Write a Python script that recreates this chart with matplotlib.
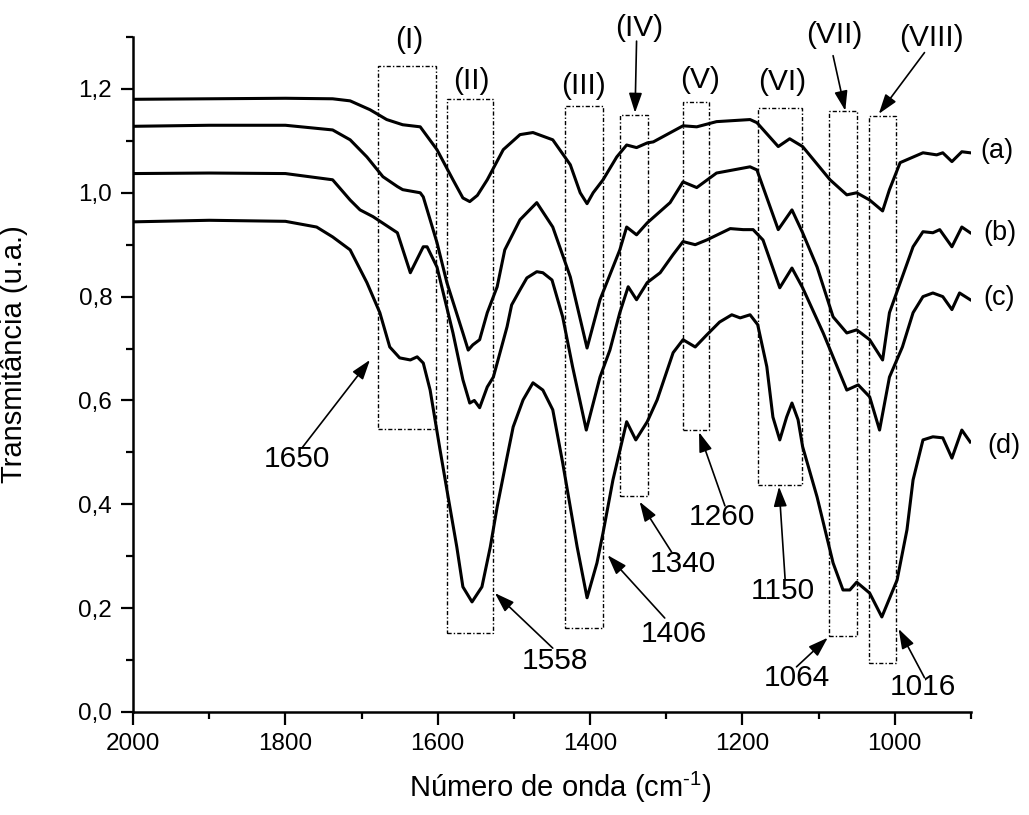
import matplotlib
matplotlib.use('Agg')
import matplotlib.pyplot as plt
from matplotlib.patches import Rectangle
from matplotlib.ticker import MultipleLocator, FuncFormatter

plt.rcParams['font.family'] = ['Liberation Sans', 'DejaVu Sans']
plt.rcParams['mathtext.fontset'] = 'custom'
plt.rcParams['mathtext.rm'] = 'Liberation Sans'
plt.rcParams['mathtext.it'] = 'Liberation Sans:italic'
plt.rcParams['mathtext.bf'] = 'Liberation Sans:bold'

# Espectros (número de onda, transmitância)
wn_a = [2000, 1900, 1800, 1738, 1715, 1689, 1667, 1646, 1623, 1601, 1580, 1567, 1558, 1548,
        1535, 1514, 1492, 1475, 1449, 1426, 1413, 1404, 1396, 1383, 1365, 1352, 1339, 1325,
        1317, 1278, 1260, 1234, 1190, 1181, 1153, 1138, 1121, 1085, 1063, 1050, 1033, 1016,
        1007, 993, 963, 945, 937, 925, 912, 901]
tr_a = [1.180, 1.181, 1.182, 1.181, 1.177, 1.160, 1.141, 1.131, 1.127, 1.083, 1.025, 0.990,
        0.983, 0.995, 1.025, 1.083, 1.112, 1.116, 1.102, 1.054, 1.000, 0.979, 1.000, 1.025,
        1.069, 1.092, 1.087, 1.096, 1.098, 1.129, 1.127, 1.137, 1.141, 1.135, 1.089, 1.104,
        1.089, 1.025, 0.996, 1.000, 0.986, 0.965, 1.006, 1.058, 1.077, 1.073, 1.077, 1.060,
        1.079, 1.077]

wn_b = [2000, 1900, 1800, 1738, 1715, 1693, 1672, 1653, 1646, 1623, 1619, 1601, 1588, 1567,
        1560, 1554, 1545, 1535, 1522, 1512, 1492, 1470, 1449, 1426, 1404, 1387, 1361, 1352,
        1339, 1325, 1295, 1278, 1260, 1234, 1190, 1181, 1153, 1135, 1121, 1102, 1081, 1063,
        1050, 1033, 1016, 1007, 976, 963, 950, 941, 925, 912, 901]
tr_b = [1.128, 1.130, 1.130, 1.121, 1.102, 1.069, 1.031, 1.012, 1.006, 1.000, 0.992, 0.904,
        0.827, 0.730, 0.697, 0.707, 0.717, 0.769, 0.819, 0.890, 0.948, 0.981, 0.934, 0.838,
        0.701, 0.794, 0.890, 0.934, 0.919, 0.942, 0.981, 1.021, 1.010, 1.038, 1.050, 1.044,
        0.929, 0.967, 0.923, 0.857, 0.761, 0.730, 0.736, 0.717, 0.678, 0.769, 0.896, 0.925,
        0.923, 0.929, 0.896, 0.934, 0.923]

wn_c = [2000, 1900, 1800, 1738, 1715, 1702, 1685, 1653, 1636, 1619, 1614, 1601, 1580, 1567,
        1558, 1552, 1545, 1535, 1527, 1509, 1503, 1492, 1483, 1470, 1462, 1450, 1436, 1423,
        1405, 1387, 1374, 1361, 1350, 1339, 1325, 1308, 1291, 1278, 1262, 1247, 1216, 1199,
        1186, 1173, 1151, 1135, 1121, 1094, 1063, 1048, 1033, 1020, 1007, 990, 976, 963, 950,
        937, 925, 915, 901]
tr_c = [1.037, 1.038, 1.037, 1.025, 0.986, 0.967, 0.954, 0.923, 0.846, 0.896, 0.896, 0.857,
        0.730, 0.640, 0.595, 0.600, 0.586, 0.626, 0.645, 0.742, 0.784, 0.813, 0.836, 0.848,
        0.846, 0.832, 0.761, 0.665, 0.543, 0.645, 0.697, 0.769, 0.819, 0.794, 0.827, 0.846,
        0.881, 0.906, 0.900, 0.909, 0.931, 0.929, 0.929, 0.909, 0.817, 0.855, 0.817, 0.730,
        0.620, 0.630, 0.607, 0.543, 0.645, 0.703, 0.769, 0.800, 0.807, 0.800, 0.775, 0.807,
        0.794]

wn_d = [2000, 1900, 1800, 1759, 1738, 1715, 1693, 1676, 1663, 1650, 1636, 1627, 1619, 1610,
        1597, 1588, 1575, 1567, 1555, 1542, 1531, 1522, 1509, 1501, 1488, 1475, 1462, 1449,
        1436, 1417, 1404, 1391, 1383, 1370, 1352, 1340, 1325, 1312, 1291, 1278, 1262, 1247,
        1230, 1214, 1203, 1190, 1180, 1168, 1160, 1151, 1142, 1135, 1127, 1121, 1102, 1081,
        1068, 1059, 1050, 1033, 1017, 997, 984, 976, 963, 950, 937, 925, 912, 901]
tr_d = [0.944, 0.947, 0.945, 0.934, 0.915, 0.890, 0.827, 0.769, 0.703, 0.682, 0.678, 0.684,
        0.672, 0.620, 0.505, 0.428, 0.318, 0.241, 0.212, 0.241, 0.318, 0.395, 0.491, 0.549,
        0.601, 0.634, 0.620, 0.582, 0.480, 0.318, 0.220, 0.287, 0.345, 0.447, 0.559, 0.524,
        0.559, 0.601, 0.692, 0.717, 0.703, 0.726, 0.751, 0.765, 0.759, 0.765, 0.746, 0.665,
        0.568, 0.524, 0.568, 0.595, 0.563, 0.511, 0.414, 0.287, 0.235, 0.235, 0.250, 0.229,
        0.183, 0.254, 0.351, 0.447, 0.524, 0.530, 0.528, 0.489, 0.543, 0.520]

# rótulos das curvas
curve_labels = ['(a)', '(b)', '(c)', '(d)']
curve_label_pos = [(866, 1.081), (862, 0.923), (863, 0.798), (857, 0.513)]

# regiões (I)-(VIII): esquerda, direita, base, topo
regions = ['(I)', '(II)', '(III)', '(IV)', '(V)', '(VI)', '(VII)', '(VIII)']
reg_left = [1678, 1588, 1433, 1361, 1278, 1180, 1087, 1034]
reg_right = [1602, 1527, 1383, 1324, 1244, 1122, 1050, 999]
reg_bottom = [0.545, 0.152, 0.162, 0.416, 0.543, 0.437, 0.146, 0.094]
reg_top = [1.245, 1.181, 1.168, 1.150, 1.175, 1.164, 1.158, 1.148]
reg_text = [(1638, 1.295), (1556, 1.216), (1409, 1.206), (1336, 1.318),
            (1255, 1.218), (1148, 1.214), (1080, 1.304), (952, 1.299)]

# setas para as regiões IV, VII, VIII (cauda, ponta)
reg_arrows = [((1339, 1.292), (1341, 1.154)),
              ((1081, 1.264), (1065, 1.158)),
              ((961, 1.270), (1021, 1.152))]

# bandas numeradas: texto, posição do texto, cauda e ponta da seta
bands = ['1650', '1558', '1406', '1340', '1260', '1150', '1064', '1016']
band_text = [(1785, 0.487), (1446, 0.098), (1290, 0.150), (1278, 0.285),
             (1227, 0.375), (1147, 0.233), (1129, 0.065), (963, 0.048)]
band_tail = [(1778, 0.509), (1449, 0.123), (1302, 0.181), (1293, 0.308),
             (1223, 0.397), (1144, 0.256), (1129, 0.087), (961, 0.066)]
band_head = [(1689, 0.678), (1525, 0.229), (1377, 0.302), (1335, 0.405),
             (1257, 0.539), (1152, 0.434), (1088, 0.143), (995, 0.160)]

fig = plt.figure(figsize=(10.29, 8.15), dpi=100)
ax = fig.add_axes([0.1293, 0.1264, 0.8143, 0.8282])

for wn, tr in [(wn_a, tr_a), (wn_b, tr_b), (wn_c, tr_c), (wn_d, tr_d)]:
    ax.plot(wn, tr, color='black', lw=2.2, solid_joinstyle='round')

for lab, (x, y) in zip(curve_labels, curve_label_pos):
    ax.text(x, y, lab, fontsize=19.5, ha='center', va='center')

dashdot = (0, (3, 1.5, 1, 1.5))
for lab, l, r, b, t, (tx, ty) in zip(regions, reg_left, reg_right, reg_bottom, reg_top, reg_text):
    ax.add_patch(Rectangle((l, b), r - l, t - b, fill=False, ec='black', lw=1.0,
                           linestyle=dashdot))
    ax.text(tx, ty, lab, fontsize=21.5, ha='center', va='center', clip_on=False)

arrow_kw = dict(arrowstyle='-|>,head_length=0.6,head_width=0.2', color='black',
                lw=1.2, mutation_scale=20, shrinkA=0, shrinkB=0)
for tail, head in reg_arrows:
    ax.annotate('', xy=head, xytext=tail, arrowprops=arrow_kw, annotation_clip=False)

for lab, pos, tail, head in zip(bands, band_text, band_tail, band_head):
    ax.text(pos[0], pos[1], lab, fontsize=21.5, ha='center', va='center')
    ax.annotate('', xy=head, xytext=tail, arrowprops=arrow_kw)

ax.set_xlim(2000, 900)
ax.set_ylim(0, 1.3)
ax.xaxis.set_major_locator(MultipleLocator(200))
ax.xaxis.set_minor_locator(MultipleLocator(100))
ax.yaxis.set_major_locator(MultipleLocator(0.2))
ax.yaxis.set_minor_locator(MultipleLocator(0.1))
ax.yaxis.set_major_formatter(FuncFormatter(lambda v, p: f'{v:.1f}'.replace('.', ',')))

ax.spines['top'].set_visible(False)
ax.spines['right'].set_visible(False)
for s in ['left', 'bottom']:
    ax.spines[s].set_linewidth(1.8)
ax.tick_params(which='major', direction='out', length=9, width=1.6, labelsize=17.5, pad=6)
ax.tick_params(which='minor', direction='out', length=5, width=1.6)

ax.set_xlabel('Número de onda (cm$^{\\mathrm{\u2010}1}$)', fontsize=21)
ax.set_ylabel('Transmitância (u.a.)', fontsize=21)
ax.yaxis.set_label_coords(-0.125, 0.53)
ax.xaxis.set_label_coords(0.51, -0.086)

fig.savefig('out.png', dpi=100)
